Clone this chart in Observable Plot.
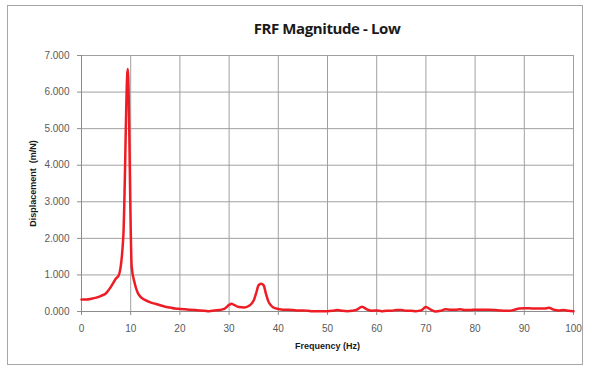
<!DOCTYPE html>
<html>
<head>
<meta charset="utf-8">
<script src="https://cdn.jsdelivr.net/npm/d3@7"></script>
<script src="https://cdn.jsdelivr.net/npm/@observablehq/plot@0.6"></script>
<style>
  html, body { margin: 0; padding: 0; background: #ffffff; }
  #frame {
    position: absolute; left: 7px; top: 5px;
    width: 574px; height: 358px;
    border: 1px solid #a6a6a6; background: #fff; overflow: hidden;
  }
  #title {
    height: 40px; line-height: 45px;
    margin-left: 73px; margin-right: 9px;
    text-align: center;
    font-family: "Open Sans", sans-serif; font-weight: bold; font-size: 15px;
    letter-spacing: -0.4px;
    color: #1a1a1a;
  }
  #chart svg { display: block; }
</style>
</head>
<body>
<div id="frame">
  <div id="title">FRF Magnitude - Low</div>
  <div id="chart"></div>
</div>
<script>
const frequency = [0,1,2,3,4,5,6,7,7.6,8.5,9.4,10.2,10.8,11.4,12,13,14,15,16,17,18,19,20,21,22,23,24,25,26,27,28,29,30,30.5,31,32,33,34,35,35.5,36,36.5,37,37.5,38,38.5,39,40,41,42,43,44,45,46,47,48,49,50,51,52,53,54,55,56,57,58,59,60,61,62,63,64,65,66,67,68,69,70,71,72,73,74,75,76,77,78,79,80,81,82,83,84,85,86,87,88,89,90,91,92,93,94,95,96,97,98,99,100];
const displacement = [0.33,0.33,0.35,0.38,0.43,0.50,0.68,0.90,1.00,2.05,6.63,1.23,0.78,0.52,0.40,0.31,0.25,0.21,0.17,0.13,0.11,0.08,0.07,0.06,0.05,0.04,0.03,0.02,0.01,0.03,0.04,0.07,0.18,0.21,0.18,0.12,0.11,0.15,0.30,0.50,0.72,0.76,0.72,0.48,0.27,0.17,0.11,0.07,0.05,0.05,0.04,0.03,0.03,0.02,0.01,0.01,0.01,0.01,0.02,0.04,0.02,0.01,0.02,0.05,0.13,0.06,0.02,0.03,0.01,0.02,0.02,0.04,0.04,0.02,0.02,0.01,0.03,0.12,0.05,0.00,0.02,0.06,0.05,0.05,0.06,0.04,0.04,0.05,0.05,0.05,0.05,0.04,0.03,0.02,0.02,0.05,0.08,0.09,0.09,0.08,0.08,0.08,0.10,0.05,0.03,0.04,0.02,0.01];
const xTicks = [0,10,20,30,40,50,60,70,80,90,100];
const yTicks = [0,1,2,3,4,5,6,7];
const titleText = "FRF Magnitude - Low";
const xLabel = "Frequency (Hz)";
const yLabel = "Displacement  (m/N)";

const data = frequency.map((f, i) => ({f, v: displacement[i]}));

const chart = Plot.plot({
  width: 574,
  height: 318,
  marginLeft: 73,
  marginRight: 9,
  marginTop: 9,
  marginBottom: 53,
  x: {domain: [0, 100]},
  y: {domain: [0, 7]},
  style: {fontFamily: "Liberation Sans, sans-serif", fontSize: "10px", color: "#595959", background: "white", overflow: "visible"},
  marks: [
    Plot.ruleY(yTicks.slice(1), {stroke: "#a0a0a0", strokeWidth: 1}),
    Plot.ruleX(xTicks.slice(1), {stroke: "#a0a0a0", strokeWidth: 1}),
    Plot.axisY(yTicks, {tickFormat: d3.format(".3f"), tickSize: 4, tickPadding: 8, label: null, stroke: "#8c8c8c"}),
    Plot.axisX(xTicks, {tickSize: 4, tickPadding: 9, label: null, stroke: "#8c8c8c"}),
    Plot.ruleX([0], {stroke: "#8c8c8c"}),
    Plot.ruleY([0], {stroke: "#8c8c8c"}),
    Plot.line(data, {x: "f", y: "v", stroke: "#ee1c24", strokeWidth: 2.5, curve: "monotone-x"}),
    Plot.text([xLabel], {frameAnchor: "bottom", dy: 35, textAnchor: "middle", lineAnchor: "middle", fontWeight: "bold", fontSize: 9, fill: "#1a1a1a"}),
    Plot.text([yLabel], {frameAnchor: "left", dx: -48, rotate: -90, textAnchor: "middle", lineAnchor: "middle", fontWeight: "bold", fontSize: 9, fill: "#1a1a1a"})
  ]
});
document.getElementById("chart").appendChild(chart);
</script>
</body>
</html>
